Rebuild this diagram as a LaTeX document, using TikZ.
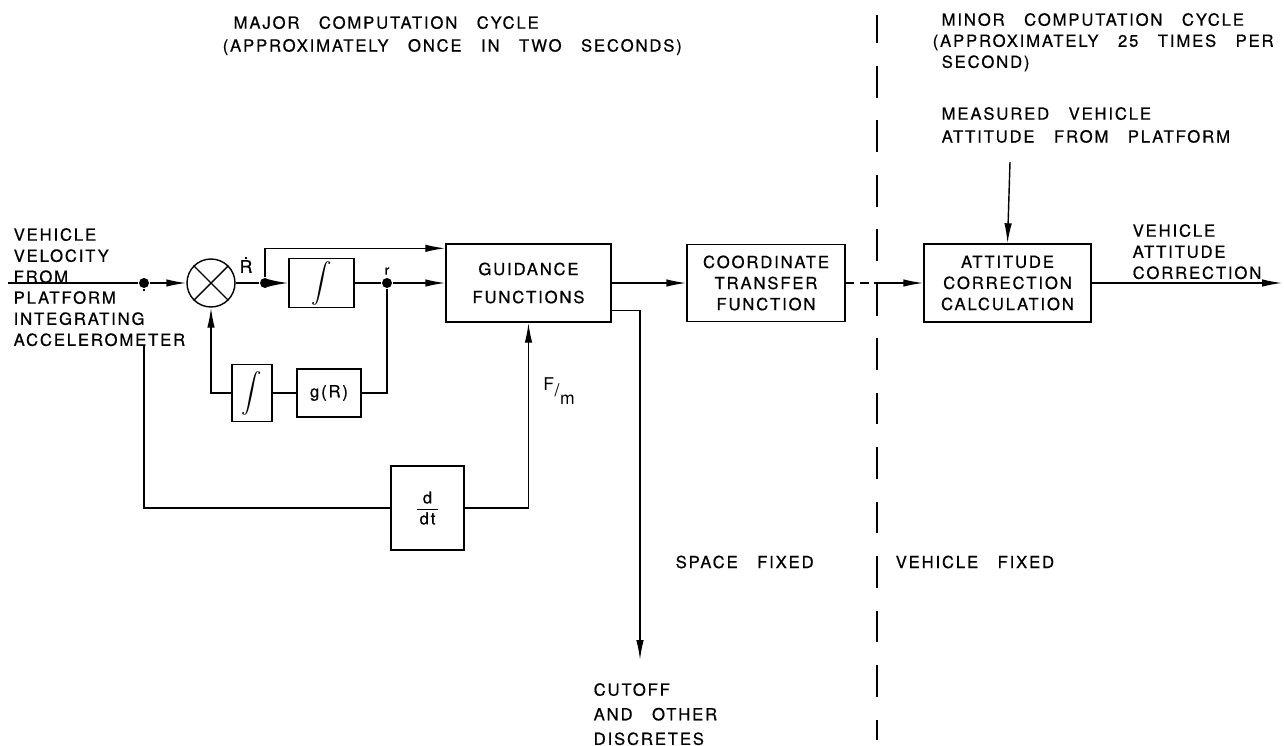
\documentclass[tikz,border=0pt]{standalone}
\usepackage{fontspec}
\usepackage{amsmath}
\usetikzlibrary{arrows.meta}
\newfontfamily\lettering[LetterSpace=11,WordSpace=3,FakeBold=0.6]{TeX Gyre Heros}
\pgfdeclarelayer{bg}
\pgfsetlayers{bg,main}
\tikzset{>={Latex[length=4mm,width=1.5mm]},every path/.style={line width=0.8pt},
  blockbox/.style={draw,line width=0.8pt,inner sep=0pt,align=center,font=\lettering\fontsize{9.5}{12}\selectfont},
  junc/.style={circle,fill,inner sep=0pt,minimum size=2mm},
  lbl/.style={font=\lettering\fontsize{9.5}{12}\selectfont,align=left,inner sep=0pt,anchor=north west}}
\newcommand{\integ}{\scalebox{1.25}{$\displaystyle\int$}}

\begin{document}
\begin{tikzpicture}
\useasboundingbox (0,0) rectangle (25.68,-14.92);

% input labels (the lower one hides the line to d/dt)
\node[lbl] (invel) at (0.26,-4.55) {VEHICLE\\VELOCITY\\FROM};
\node[lbl,fill=white] (inacc) at (0.26,-5.81) {PLATFORM\\INTEGRATING\\ACCELEROMETER};

% ===== major cycle: velocity loop =====
\coordinate (in) at (0.16,-5.66);
\node[junc] (j1) at (2.88,-5.66) {};
\node[draw,circle,minimum size=0.96cm,inner sep=0pt,line width=0.8pt] (sum) at (4.22,-5.66) {};
\draw (sum.45) -- (sum.225) (sum.135) -- (sum.315);
\node[junc] (j2) at (5.30,-5.66) {};
\node[blockbox,minimum width=1.3cm,minimum height=0.98cm] (int1) at (6.43,-5.66) {\integ};
\node[junc] (j3) at (7.74,-5.66) {};
\node[blockbox,minimum width=0.8cm,minimum height=1.14cm] (int2) at (5.04,-7.86) {\integ};
\node[blockbox,minimum width=1.28cm,minimum height=0.96cm] (gR) at (6.58,-7.86) {g(R)};
\node[blockbox,minimum width=1.46cm,minimum height=1.68cm] (ddt) at (8.55,-10.16) {$\dfrac{\text{\lettering d}}{\text{\lettering\,dt\,}}$};
\node[blockbox,minimum width=3.3cm,minimum height=1.56cm] (guid) at (10.57,-5.66) {GUIDANCE\\[4pt]FUNCTIONS};
\node[blockbox,minimum width=3.16cm,minimum height=1.54cm] (ctf) at (15.32,-5.66) {COORDINATE\\TRANSFER\\FUNCTION};

% ===== minor cycle =====
\node[blockbox,minimum width=3.34cm,minimum height=1.56cm] (att) at (20.15,-5.66) {ATTITUDE\\CORRECTION\\CALCULATION};
\coordinate (meas) at (20.2,-3.24);
\coordinate (outend) at (25.64,-5.66);
\coordinate (divtop) at (17.54,-0.3);
\coordinate (divbot) at (17.54,-14.8);
\coordinate (cross) at (17.54,-5.66);
\draw[dash pattern=on 18pt off 13pt,dash phase=2pt] (divtop) -- (divbot);

% connectors
\draw (in) -- (j1);
\draw[->] (j1) -- (sum.west);
\draw (sum.east) -- (j2);
\draw[->] (j2) -- (int1.west);
\draw (int1.east) -- (j3);
\draw[->] (j3) -- (guid.west);
\coordinate (gin) at ([yshift=-0.1cm]guid.north west);
\draw[->] (j2) |- (gin);
\draw (j3) |- (gR.east);
\draw (gR.west) -- (int2.east);
\draw[->] (int2.west) -| (sum.south);
\begin{pgfonlayer}{bg}
  \draw (j1) |- (ddt.west);
\end{pgfonlayer}
\draw[->] (ddt.east) -| (guid.south);
\coordinate (gout) at ([yshift=0.24cm]guid.south east);
\coordinate (dend) at (12.8,-13.2);
\draw[->] (gout) -| (dend);
\draw[->] (guid.east) -- (ctf.west);
\draw[dash pattern=on 5pt off 3pt] (ctf.east) -- (cross);
\draw[->] (cross) -- (att.west);
\draw[->] (meas) -- (att.north);
\draw[->] (att.east) -- (outend);

% signal labels
\node[font=\lettering\fontsize{10}{10}\selectfont] (Rdot) at (4.92,-5.3) {\.{R}};
\node[font=\lettering\fontsize{7.5}{8}\selectfont] (rlab) at (7.74,-5.42) {r};
\node[font=\fontspec{TeX Gyre Heros}\fontsize{10}{10}\selectfont,inner sep=0pt] (fm) at (11.18,-7.82) {\raisebox{3.5pt}{F}\kern0.3pt\raisebox{0.5pt}{/}\kern0.3pt\raisebox{-4pt}{m}};

% texts
\node[lbl] (major) at (4.44,-0.31) {\hspace*{0.22cm}MAJOR COMPUTATION CYCLE\\[1pt](APPROXIMATELY ONCE IN TWO SECONDS)};
\node[lbl] (minor) at (18.64,-0.25) {\hspace*{0.18cm}MINOR COMPUTATION CYCLE\\(APPROXIMATELY 25 TIMES PER\\\hspace*{0.18cm}SECOND)};
\node[lbl] (measlab) at (18.82,-2.13) {MEASURED VEHICLE\\[1pt]ATTITUDE FROM PLATFORM};
\node[lbl] (outlab) at (22.64,-4.47) {VEHICLE\\ATTITUDE\\CORRECTION};
\node[lbl] (cutoff) at (11.86,-13.65) {CUTOFF\\[2pt]AND OTHER\\[2pt]DISCRETES};
\node[lbl,anchor=west] (spacefix) at (13.5,-11.24) {SPACE FIXED};
\node[lbl,anchor=west] (vehfix) at (17.9,-11.24) {VEHICLE FIXED};
\end{tikzpicture}
\end{document}
